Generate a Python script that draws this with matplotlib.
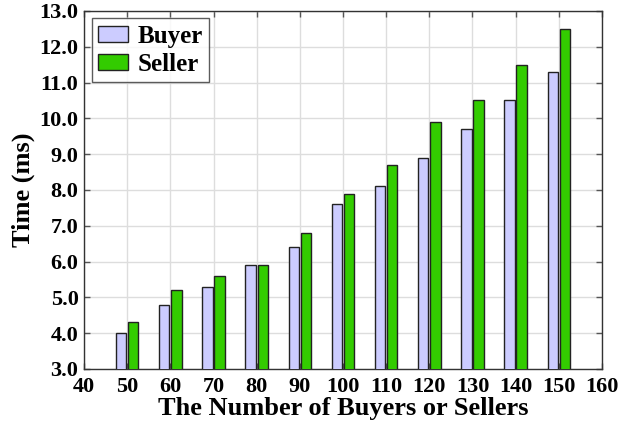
import matplotlib
matplotlib.use("Agg")
import matplotlib.pyplot as plt
import numpy as np

plt.rcParams['font.family'] = ['Liberation Serif', 'DejaVu Serif']
plt.rcParams['font.weight'] = 'bold'

n_users = [50, 60, 70, 80, 90, 100, 110, 120, 130, 140, 150]
buyer = [4.0, 4.8, 5.3, 5.9, 6.4, 7.6, 8.1, 8.9, 9.7, 10.5, 11.3]
seller = [4.3, 5.2, 5.6, 5.9, 6.8, 7.9, 8.7, 9.9, 10.5, 11.5, 12.5]

fig = plt.figure(figsize=(6.39, 4.30), dpi=100)
ax = fig.add_axes([0.1315, 0.142, 0.8105, 0.8325])

x = np.array(n_users, dtype=float)
w = 2.4
ax.bar(x - 1.4, buyer, width=w, bottom=0, color='#ccccff', edgecolor='#222222', linewidth=1.0, label='Buyer', zorder=3)
ax.bar(x + 1.4, seller, width=w, bottom=0, color='#33cc00', edgecolor='#222222', linewidth=1.0, label='Seller', zorder=3)

ax.set_xlim(40, 160)
ax.set_ylim(3.0, 13.0)
ax.set_xticks(np.arange(40, 161, 10))
ax.set_yticks(np.arange(3.0, 13.01, 1.0))
ax.set_yticklabels([f"{v:.1f}" for v in np.arange(3.0, 13.01, 1.0)])
ax.grid(True, color='#dddddd', linewidth=1.0, zorder=0)
ax.set_axisbelow(True)
ax.tick_params(direction='in', top=True, right=True, labelsize=16, length=4, width=1, color='#555555')
ax.tick_params(axis='x', pad=6)
ax.tick_params(axis='y', pad=4)
for lab in ax.get_xticklabels() + ax.get_yticklabels():
    lab.set_fontweight('bold')
for s in ax.spines.values():
    s.set_color('#333333')
    s.set_linewidth(1.0)

ax.set_xlabel('The Number of Buyers or Sellers', fontsize=19, fontweight='bold', labelpad=0)
ax.set_ylabel('Time (ms)', fontsize=19, fontweight='bold', labelpad=3)

leg = ax.legend(loc='upper left', fontsize=18, frameon=True, fancybox=False,
                edgecolor='#333333', borderaxespad=0.3, handlelength=1.2, handleheight=0.65,
                borderpad=0.25, labelspacing=0.2, handletextpad=0.4)
leg.get_frame().set_linewidth(1.0)
for t in leg.get_texts():
    t.set_fontweight('bold')

fig.savefig('out.png', dpi=100)
